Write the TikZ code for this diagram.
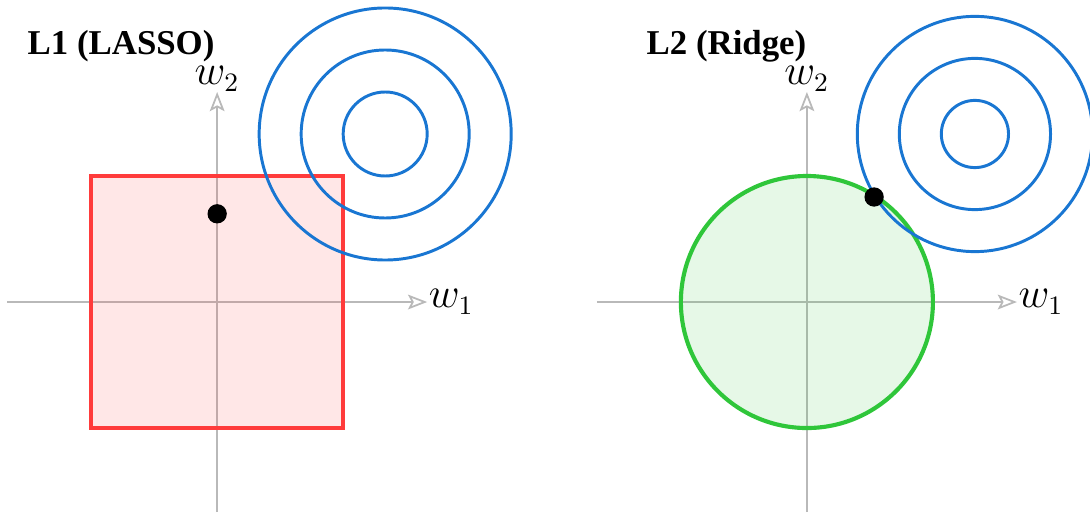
\documentclass[tikz,border=0pt]{standalone}
\usepackage[no-math]{fontspec}
\setmainfont{Liberation Serif}
\usepackage{xcolor}
\definecolor{lassored}{HTML}{FF3B3B}
\definecolor{ridgegreen}{HTML}{2FC63A}
\definecolor{lossblue}{HTML}{1976D2}
\usepackage{tikz}
\usetikzlibrary{arrows.meta}

\begin{document}
\begin{tikzpicture}[x=0.5cm,y=0.5cm,>={Stealth[open,length=6.5pt,width=5pt,inset=1.3pt]}]
\tikzset{
 ax/.style={->,draw=gray!55,line width=0.6pt},
 lbl/.style={font=\fontsize{13.5}{15}\selectfont},
 ttl/.style={anchor=base east,inner sep=0pt,font=\fontsize{11.8}{14}\selectfont\bfseries},
 ct/.style={draw=lossblue,line width=1pt},
 pt/.style={fill=black}
}
\useasboundingbox (-5.17,-5.095) rectangle (20.78,7.19);
% L1 panel
\draw[ax] (-5,0) -- (5,0) node[lbl,anchor=west,inner sep=0.3pt] (x1) {$w_1$};
\draw[ax] (0,-5) -- (0,5) node[lbl,above,inner sep=0pt] (y1) {$w_2$};
\draw[draw=lassored,fill=lassored,fill opacity=0.12,line width=1.4pt] (-3,-3) rectangle (3,3);
\foreach \r in {1,2,3}
  \draw[ct] (4,4) circle (\r);
\fill[pt] (0,2.1) circle (0.23);
\node[ttl] (t1) at (-0.05,5.9) {L1 (LASSO)};
% L2 panel
\begin{scope}[shift={(14.04,0)}]
\draw[ax] (-5,0) -- (5,0) node[lbl,anchor=west,inner sep=0.3pt] (x2) {$w_1$};
\draw[ax] (0,-5) -- (0,5) node[lbl,above,inner sep=0pt] (y2) {$w_2$};
\draw[draw=ridgegreen,fill=ridgegreen,fill opacity=0.12,line width=1.4pt] (0,0) circle (3);
\foreach \r in {0.8,1.8,2.8}
  \draw[ct] (4,4) circle (\r);
\fill[pt] (1.6,2.5) circle (0.23);
\node[ttl] (t2) at (0,5.9) {L2 (Ridge)};
\end{scope}
\end{tikzpicture}
\end{document}
